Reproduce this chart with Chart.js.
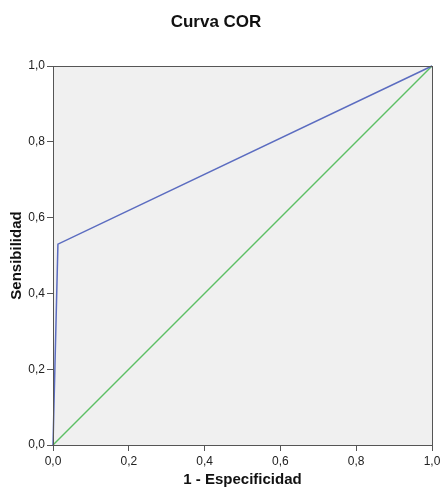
<!DOCTYPE html>
<html>
<head>
<meta charset="utf-8">
<title>Curva COR</title>
<script src="https://cdn.jsdelivr.net/npm/chart.js@4/dist/chart.umd.min.js"></script>
<style>
  html, body { margin: 0; padding: 0; background: #ffffff; }
  canvas { display: block; }
</style>
</head>
<body>
<canvas id="roc" width="440" height="489"></canvas>
<script>
// ROC curve: 1 - specificity (x) against sensitivity (y)
const rocFpr = [0, 0.013, 1];
const rocTpr = [0, 0.53, 1];

// Diagonal reference line (random classifier)
const refX = [0, 1];
const refY = [0, 1];

// Axis ticks
const tickValues = [0, 0.2, 0.4, 0.6, 0.8, 1.0];
const tickLabels = ['0,0', '0,2', '0,4', '0,6', '0,8', '1,0'];

const toPoints = (xs, ys) => xs.map((x, i) => ({ x: x, y: ys[i] }));
const tickText = (v) => {
  const i = tickValues.findIndex(t => Math.abs(t - v) < 1e-6);
  return i >= 0 ? tickLabels[i] : '';
};

// Grey plot background and dark frame around the chart area
const plotFrame = {
  id: 'plotFrame',
  beforeDatasetsDraw(chart) {
    const { ctx, chartArea: a } = chart;
    ctx.save();
    ctx.fillStyle = '#f0f0f0';
    ctx.fillRect(a.left, a.top, a.right - a.left, a.bottom - a.top);
    ctx.restore();
  },
  afterDatasetsDraw(chart) {
    const { ctx, chartArea: a } = chart;
    ctx.save();
    ctx.strokeStyle = '#555555';
    ctx.lineWidth = 1;
    ctx.strokeRect(Math.round(a.left) + 0.5, Math.round(a.top) + 0.5,
                   Math.round(a.right - a.left), Math.round(a.bottom - a.top));
    ctx.restore();
  }
};

const fontFamily = "'Liberation Sans', Arial, sans-serif";
const tickFont = { family: fontFamily, size: 12 };
const axisTitleFont = { family: fontFamily, size: 15, weight: 'bold', lineHeight: 1.2 };
const chartTitleFont = { family: fontFamily, size: 17, weight: 'bold', lineHeight: 1.2 };

new Chart(document.getElementById('roc'), {
  type: 'scatter',
  data: {
    datasets: [
      {
        label: 'Curva COR',
        data: toPoints(rocFpr, rocTpr),
        showLine: true,
        borderColor: '#5b6cc0',
        borderWidth: 1.5,
        pointRadius: 0,
        tension: 0,
        clip: false
      },
      {
        label: 'Línea de referencia',
        data: toPoints(refX, refY),
        showLine: true,
        borderColor: '#5dbf65',
        borderWidth: 1.5,
        pointRadius: 0,
        tension: 0,
        clip: false
      }
    ]
  },
  options: {
    responsive: false,
    animation: false,
    layout: { padding: { top: 0, left: 0, right: 8, bottom: 0 } },
    plugins: {
      legend: { display: false },
      tooltip: { enabled: false },
      title: {
        display: true,
        text: 'Curva COR',
        color: '#111111',
        font: chartTitleFont,
        padding: { top: 12, bottom: 33.6 }
      }
    },
    scales: {
      x: {
        type: 'linear',
        min: 0,
        max: 1,
        afterBuildTicks(scale) {
          scale.ticks = tickValues.map(v => ({ value: v }));
        },
        afterFit(scale) {
          scale.height = 44;
          scale.paddingLeft = 0;
          scale.paddingRight = 0;
        },
        ticks: {
          callback: (v) => tickText(v),
          color: '#222222',
          font: tickFont,
          padding: 3,
          maxRotation: 0
        },
        grid: {
          drawOnChartArea: false,
          drawTicks: true,
          tickLength: 6,
          color: '#555555'
        },
        border: { color: '#555555', width: 1 },
        title: {
          display: true,
          text: '1 - Especificidad',
          color: '#111111',
          font: axisTitleFont,
          padding: { top: 0, bottom: 0 }
        }
      },
      y: {
        type: 'linear',
        min: 0,
        max: 1,
        afterBuildTicks(scale) {
          scale.ticks = tickValues.map(v => ({ value: v }));
        },
        afterFit(scale) { scale.width = 53; },
        ticks: {
          callback: (v) => tickText(v),
          color: '#222222',
          font: tickFont,
          padding: 2
        },
        grid: {
          drawOnChartArea: false,
          drawTicks: true,
          tickLength: 6,
          color: '#555555'
        },
        border: { color: '#555555', width: 1 },
        title: {
          display: true,
          text: 'Sensibilidad',
          color: '#111111',
          font: axisTitleFont,
          padding: { top: 8, bottom: 0 }
        }
      }
    }
  },
  plugins: [plotFrame]
});
</script>
</body>
</html>
